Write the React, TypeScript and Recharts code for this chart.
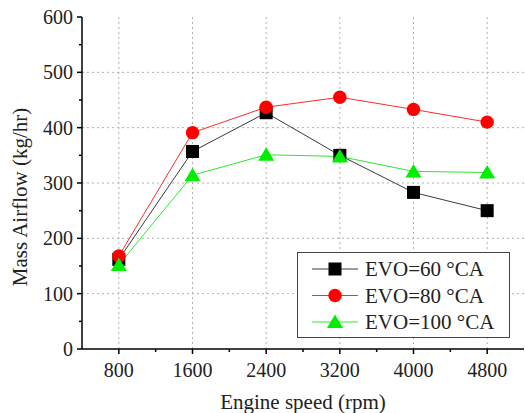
import React from "react";
import { Legend, Line, LineChart, ReferenceLine, XAxis, YAxis, Customized } from "recharts";

const speeds = [800, 1600, 2400, 3200, 4000, 4800];
const evo60 = [162, 357, 427, 350, 283, 250];
const evo80 = [168, 391, 437, 455, 433, 410];
const evo100 = [152, 314, 351, 348, 321, 319];

const xTicks = [800, 1200, 1600, 2000, 2400, 2800, 3200, 3600, 4000, 4400, 4800];
const xMajor = [800, 1600, 2400, 3200, 4000, 4800];
const yTicks = [0, 50, 100, 150, 200, 250, 300, 350, 400, 450, 500, 550, 600];
const yMajor = [0, 100, 200, 300, 400, 500, 600];
const yGrid = [100, 200, 300, 400, 500];

const series = [
  { key: "evo60", name: "EVO=60 °CA", line: "#3a3a3a", fill: "#000000", shape: "square" },
  { key: "evo80", name: "EVO=80 °CA", line: "#ff2a2a", fill: "#ff0000", shape: "circle" },
  { key: "evo100", name: "EVO=100 °CA", line: "#2ee82e", fill: "#00ee00", shape: "triangle" },
];

const data = speeds.map((s, i) => ({ speed: s, evo60: evo60[i], evo80: evo80[i], evo100: evo100[i] }));

const FONT = "Liberation Serif, Times New Roman, serif";

function Marker({ cx, cy, shape, fill }: { cx: number; cy: number; shape: string; fill: string }) {
  if (shape === "square") return <rect x={cx - 6.5} y={cy - 6.5} width={13} height={13} fill={fill} />;
  if (shape === "circle") return <circle cx={cx} cy={cy} r={6.7} fill={fill} />;
  return <polygon points={`${cx},${cy - 7.5} ${cx - 8},${cy + 6} ${cx + 8},${cy + 6}`} fill={fill} />;
}

function XTick({ x, y, payload }: any) {
  const major = xMajor.includes(payload.value);
  return (
    <g>
      <line x1={x} x2={x} y1={y} y2={y + (major ? 5 : 3)} stroke="#000" strokeWidth={1.5} />
      {major ? (
        <text x={x} y={y + 28} textAnchor="middle" style={{ fontFamily: FONT, fontSize: 20 }} fill="#222">
          {payload.value}
        </text>
      ) : null}
    </g>
  );
}

function YTick({ x, y, payload }: any) {
  const major = yMajor.includes(payload.value);
  return (
    <g>
      <line x1={x} x2={x - (major ? 5 : 3)} y1={y} y2={y} stroke="#000" strokeWidth={1.5} />
      {major ? (
        <text x={x - 9} y={y + 7} textAnchor="end" style={{ fontFamily: FONT, fontSize: 20 }} fill="#222">
          {payload.value}
        </text>
      ) : null}
    </g>
  );
}

function LegendBox() {
  return (
    <svg width={213} height={86} style={{ display: "block" }}>
      <rect x={0.5} y={0.5} width={212} height={85} fill="#fff" stroke="#444" strokeWidth={1} />
      {series.map((s, i) => {
        const cy = 17 + i * 26.5;
        return (
          <g key={s.key}>
            <line x1={15} x2={61} y1={cy} y2={cy} stroke={s.line} strokeWidth={1} />
            <Marker cx={38} cy={cy} shape={s.shape} fill={s.fill} />
            <text x={68} y={cy + 7} style={{ fontFamily: FONT, fontSize: 21 }} fill="#222">
              {s.name}
            </text>
          </g>
        );
      })}
    </svg>
  );
}

function Titles() {
  return (
    <g style={{ fontFamily: FONT, fontSize: 21 }} fill="#222">
      <text x={303} y={409} textAnchor="middle">
        Engine speed (rpm)
      </text>
      <text x={27} y={197} textAnchor="middle" transform="rotate(-90 27 197)">
        Mass Airflow (kg/hr)
      </text>
    </g>
  );
}

export default function App() {
  return (
    <div style={{ position: "absolute", left: 0, top: 0, width: 525, height: 413, background: "#fff" }}>
      <LineChart width={525} height={413} data={data} margin={{ top: 17, right: 1, bottom: 0, left: 0 }}>
        <XAxis
          dataKey="speed"
          type="number"
          domain={[400, 5200]}
          ticks={xTicks}
          interval={0}
          height={64}
          tickSize={0}
          tickMargin={0}
          tickLine={false}
          tick={<XTick />}
          axisLine={{ stroke: "#000", strokeWidth: 1.5 }}
        />
        <XAxis
          xAxisId="top"
          orientation="top"
          type="number"
          domain={[400, 5200]}
          height={0}
          tick={false}
          tickLine={false}
          axisLine={{ stroke: "#000", strokeWidth: 1.5 }}
        />
        <YAxis
          type="number"
          domain={[0, 600]}
          ticks={yTicks}
          interval={0}
          width={82}
          tickSize={0}
          tickMargin={0}
          tickLine={false}
          tick={<YTick />}
          axisLine={{ stroke: "#000", strokeWidth: 1.5 }}
        />
        <YAxis
          yAxisId="right"
          orientation="right"
          type="number"
          domain={[0, 600]}
          width={0}
          tick={false}
          tickLine={false}
          axisLine={{ stroke: "#000", strokeWidth: 1.5 }}
        />
        {xMajor.map((v) => (
          <ReferenceLine key={`vx${v}`} x={v} stroke="#b0b0b0" strokeDasharray="2 3" />
        ))}
        {yGrid.map((v) => (
          <ReferenceLine key={`hy${v}`} y={v} stroke="#b0b0b0" strokeDasharray="2 3" />
        ))}
        {series.map((s) => (
          <Line
            key={s.key}
            dataKey={s.key}
            name={s.name}
            type="linear"
            stroke={s.line}
            strokeWidth={1}
            isAnimationActive={false}
            dot={(p: any) => <Marker key={`${s.key}-${p.index}`} cx={p.cx} cy={p.cy} shape={s.shape} fill={s.fill} />}
            activeDot={false}
          />
        ))}
        <Legend
          layout="vertical"
          align="center"
          verticalAlign="middle"
          content={() => <LegendBox />}
          wrapperStyle={{ position: "absolute", left: 297, top: 252, width: 213, height: 86 }}
        />
        <Customized component={Titles} />
      </LineChart>
    </div>
  );
}
